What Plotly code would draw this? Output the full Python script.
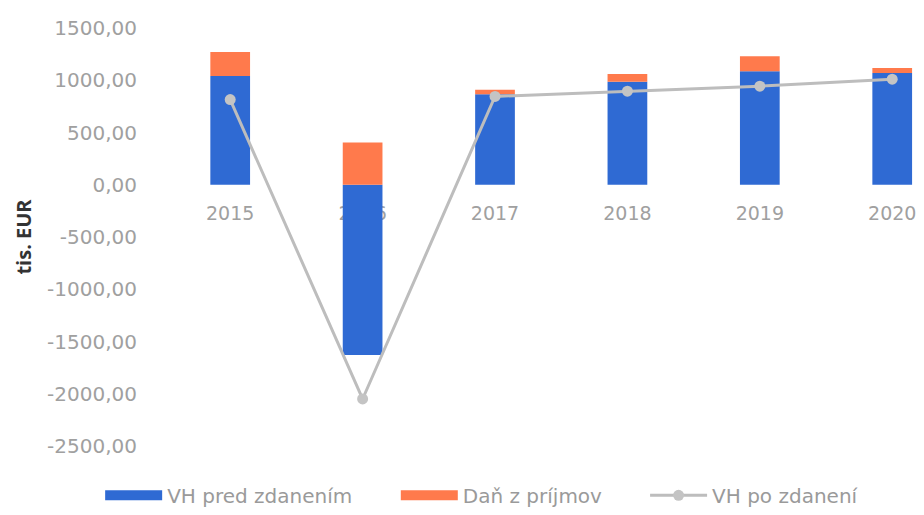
import plotly.graph_objects as go

years = ["2015", "2016", "2017", "2018", "2019", "2020"]
vh_pred = [1040, -1630, 865, 985, 1085, 1070]
dan = [230, 405, 45, 75, 145, 47]
vh_po = [815, -2050, 845, 895, 943, 1010]

y_tickvals = [1500, 1000, 500, 0, -500, -1000, -1500, -2000, -2500]
y_ticktext = ["1500,00", "1000,00", "500,00", "0,00", "-500,00", "-1000,00",
              "-1500,00", "-2000,00", "-2500,00"]

BLUE = "#2F6AD3"
ORANGE = "#FF7A4C"
GRAY = "#BDBDBD"
FONT = "DejaVu Sans"

fig = go.Figure()
fig.add_trace(go.Bar(x=years, y=vh_pred, name="VH pred zdanením", showlegend=False,
                     marker=dict(color=BLUE, line=dict(width=0))))
fig.add_trace(go.Bar(x=years, y=dan, name="Daň z príjmov", showlegend=False,
                     marker=dict(color=ORANGE, line=dict(width=0))))
# legend-only entries with wide rectangular swatches
fig.add_trace(go.Scatter(x=[None], y=[None], mode="lines", name="VH pred zdanením",
                         line=dict(color=BLUE, width=10), legend="legend"))
fig.add_trace(go.Scatter(x=[None], y=[None], mode="lines", name="Daň z príjmov",
                         line=dict(color=ORANGE, width=10), legend="legend2"))
fig.add_trace(go.Scatter(x=years, y=vh_po, name="VH po zdanení", mode="lines+markers",
                         line=dict(color=GRAY, width=3),
                         marker=dict(color="#C4C4C4", size=11), legend="legend3"))

leg_common = dict(orientation="h", y=-0.118, yanchor="middle", xanchor="left",
                  font=dict(size=20, color="#9A9A9A"), itemwidth=57, bgcolor="rgba(0,0,0,0)")

fig.update_layout(
    width=916, height=507,
    barmode="relative", bargap=0.7,
    plot_bgcolor="white", paper_bgcolor="white",
    margin=dict(l=156, r=0, t=20, b=67),
    font=dict(family=FONT, color="#A6A6A6", size=18),
    showlegend=True,
    legend=dict(x=-0.084, **leg_common),
    legend2=dict(x=0.305, **leg_common),
    legend3=dict(x=0.633, **leg_common),
    xaxis=dict(type="category", range=[-0.5, 5.24], anchor="free", position=0.625,
               layer="below traces",
               showline=False, showgrid=False, zeroline=False,
               ticks="outside", ticklen=11, tickcolor="rgba(0,0,0,0)",
               tickfont=dict(size=19, color="#A0A0A0")),
    yaxis=dict(range=[-2500, 1500], tickmode="array", tickvals=y_tickvals, ticktext=y_ticktext,
               showgrid=False, zeroline=False, showline=False,
               ticks="outside", ticklen=22, tickcolor="rgba(0,0,0,0)",
               tickfont=dict(size=20, color="#A0A0A0"),
               title=dict(text="<b>tis. EUR</b>", font=dict(size=20, color="#333333", family="Open Sans"),
                          standoff=10)),
)

fig.write_html("out.html")
